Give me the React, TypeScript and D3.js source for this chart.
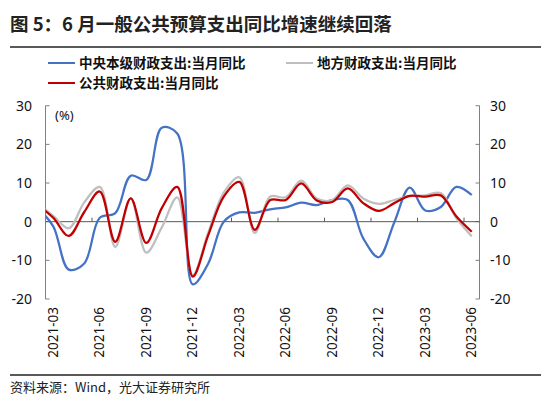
import * as d3 from 'd3';

// 2021-02 leads the series; it sits left of the axis and gets clipped
const months = [
  '2021-02', '2021-03', '2021-04', '2021-05', '2021-06', '2021-07', '2021-08', '2021-09', '2021-10',
  '2021-11', '2021-12', '2022-01', '2022-02', '2022-03', '2022-04', '2022-05', '2022-06', '2022-07',
  '2022-08', '2022-09', '2022-10', '2022-11', '2022-12', '2023-01', '2023-02', '2023-03', '2023-04',
  '2023-05', '2023-06',
];

const central = [
  3.5, -1.2, -12.4, -10.8, 1.0, 2.2, 11.9, 10.8, 24.3, 22.8, -16.2, -10.8, 0.0, 2.4, 2.3, 3.2, 3.7,
  4.9, 4.3, 5.6, 5.6, -4.3, -9.2, -0.2, 8.8, 2.9, 3.8, 9.0, 6.9,
];
const local = [
  4.8, 1.5, -1.7, 5.0, 9.0, -6.5, 6.0, -8.0, -1.5, 6.3, -13.8, -2.8, 7.5, 11.5, -2.9, 6.5, 6.3,
  10.6, 6.0, 5.6, 9.4, 6.0, 4.6, 5.6, 6.6, 6.8, 7.4, 0.9, -3.8,
];
const total = [
  4.3, 1.0, -3.7, 2.5, 7.8, -5.2, 6.0, -5.5, 3.5, 9.0, -14.2, -3.5, 6.5, 10.3, -2.1, 5.6, 5.6,
  9.9, 5.5, 5.1, 8.6, 4.8, 2.8, 4.8, 6.7, 6.5, 6.8, 1.4, -2.6,
];

const yTicks = [-20, -10, 0, 10, 20, 30];

const series = [
  { name: '中央本级财政支出:当月同比', values: central, color: '#4472C4' },
  { name: '地方财政支出:当月同比', values: local, color: '#BFBFBF' },
  { name: '公共财政支出:当月同比', values: total, color: '#C00000' },
];

const W = 550;
const H = 399;
const plot = { left: 45.5, right: 479.5, top: 105.7, bottom: 299 };
const cjk = '"Noto Sans CJK SC", "Noto Sans", sans-serif';
const num = '"Noto Sans", "Liberation Sans", sans-serif';

export default function App() {
  const axisMonths = months.slice(1);
  const band = d3.scaleBand<string>().domain(axisMonths).range([plot.left, plot.right]).padding(0);
  const step = band.step();
  const x = d3
    .scaleLinear()
    .domain([1, months.length - 1])
    .range([band(axisMonths[0])! + step / 2, band(axisMonths[axisMonths.length - 1])! + step / 2]);
  const y = d3.scaleLinear().domain([-20, 30]).range([plot.bottom, plot.top]);

  const line = d3
    .line<number>()
    .x((_, i) => x(i))
    .y((d) => y(d))
    .curve(d3.curveCatmullRom.alpha(0.5));

  const labelMonths = axisMonths.filter((_, i) => i % 3 === 0);
  const tickMonths = axisMonths.filter((_, i) => i > 0 && i % 3 === 0);

  const legend = [
    { s: series[0], lx: 48, ly: 63 },
    { s: series[1], lx: 286, ly: 63 },
    { s: series[2], lx: 48, ly: 83 },
  ];

  return (
    <svg
      width={W}
      height={H}
      style={{ position: 'absolute', left: 0, top: 0, background: '#fff' }}
    >
      <defs>
        <clipPath id="plot-clip">
          <rect x={plot.left} y={0} width={plot.right - plot.left} height={H} />
        </clipPath>
      </defs>

      {/* title */}
      <text x={10} y={31} fontFamily={cjk} fontSize={18.5} fontWeight={700} fill="#222">
        图 5：6 月一般公共预算支出同比增速继续回落
      </text>
      <line x1={10} x2={541} y1={47} y2={47} stroke="#222" strokeWidth={1.5} />

      {/* legend */}
      {legend.map(({ s, lx, ly }) => (
        <g key={s.name}>
          <line x1={lx} x2={lx + 27} y1={ly} y2={ly} stroke={s.color} strokeWidth={2} />
          <text x={lx + 31} y={ly} dy="0.36em" fontFamily={cjk} fontSize={13.5} fontWeight={700} fill="#111">
            {s.name}
          </text>
        </g>
      ))}

      {/* axes */}
      <line x1={plot.left} x2={plot.left} y1={plot.top} y2={plot.bottom} stroke="#808080" />
      <line x1={plot.right} x2={plot.right} y1={plot.top} y2={plot.bottom} stroke="#808080" />
      {yTicks.map((t) => (
        <g key={t}>
          <line x1={plot.left} x2={plot.left + 4} y1={y(t)} y2={y(t)} stroke="#808080" />
          <line x1={plot.right - 4} x2={plot.right} y1={y(t)} y2={y(t)} stroke="#808080" />
          <text x={32} y={y(t)} dy="0.35em" textAnchor="end" fontFamily={num} fontSize={14} fill="#111">
            {t}
          </text>
          <text x={490} y={y(t)} dy="0.35em" textAnchor="start" fontFamily={num} fontSize={14} fill="#111">
            {t}
          </text>
        </g>
      ))}
      <text x={55} y={115} dy="0.35em" fontFamily={num} fontSize={13} fill="#111">
        (%)
      </text>

      {/* zero line with month ticks */}
      <line x1={plot.left} x2={plot.right} y1={y(0)} y2={y(0)} stroke="#595959" />
      {tickMonths.map((m) => (
        <line key={m} x1={band(m)!} x2={band(m)!} y1={y(0)} y2={y(0) - 4} stroke="#595959" />
      ))}

      {/* series */}
      <g clipPath="url(#plot-clip)">
        {series.map((s) => (
          <path key={s.name} d={line(s.values)!} fill="none" stroke={s.color} strokeWidth={2.25} />
        ))}
      </g>

      {/* x labels */}
      {labelMonths.map((m) => (
        <text
          key={m}
          transform={`translate(${band(m)! + step / 2},307) rotate(-90)`}
          dy="0.35em"
          textAnchor="end"
          fontFamily={num}
          fontSize={13.5}
          fill="#111"
        >
          {m}
        </text>
      ))}

      {/* source */}
      <line x1={10} x2={541} y1={375} y2={375} stroke="#222" strokeWidth={1.5} />
      <text x={10} y={387} dy="0.35em" fontFamily={cjk} fontSize={13} fill="#222">
        资料来源：Wind，光大证券研究所
      </text>
    </svg>
  );
}
